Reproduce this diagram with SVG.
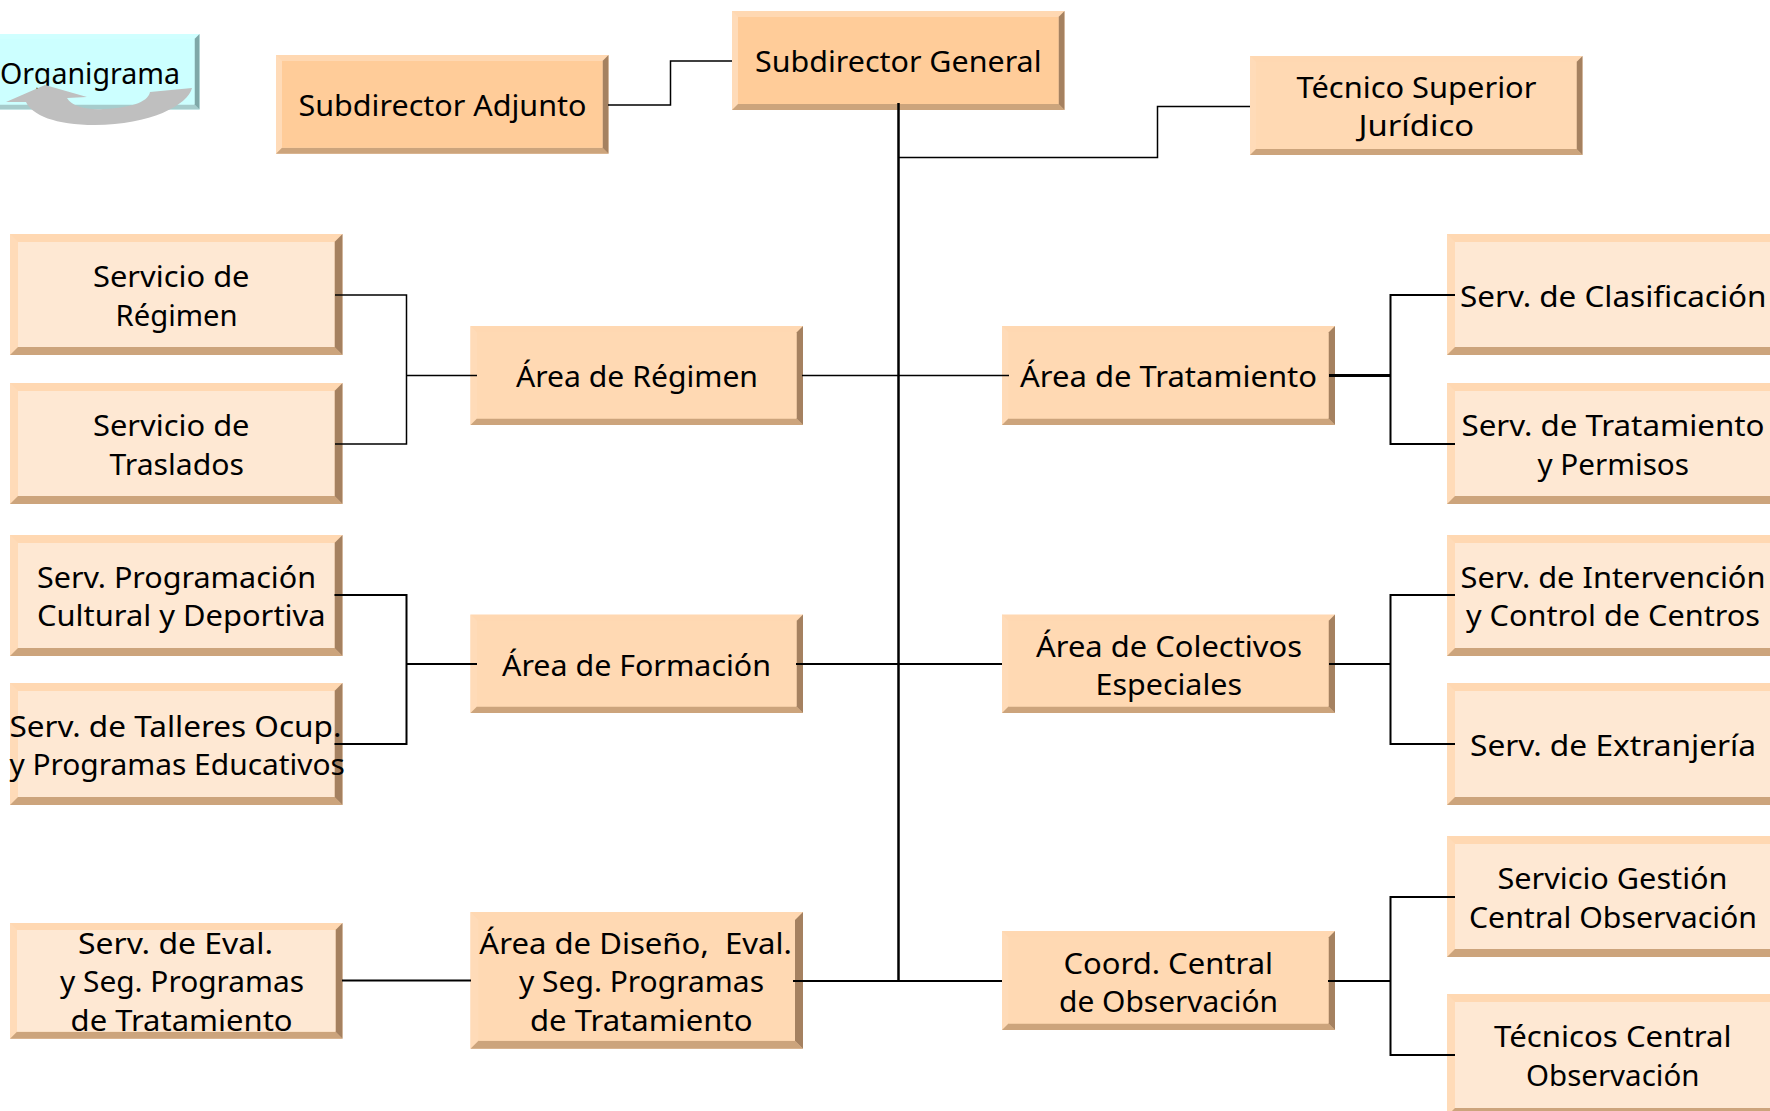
<svg xmlns="http://www.w3.org/2000/svg" width="1770" height="1111" viewBox="0 0 1770 1111">
<style>
text{font-family:"Noto Sans","DejaVu Sans",sans-serif;font-size:29px;fill:#000}
.t{fill:#FFD8B2}.l{fill:#FFDBB8}.b{fill:#CCA47C}.r{fill:#A58160}
.f1{fill:#FFCC99}.f2{fill:#FFD9B3}.f3{fill:#FEE8D3}
.ct{fill:#D0FFFF}.cl{fill:#CCFFFF}.cb{fill:#A6CCCC}.cr{fill:#7FA8A8}.cf{fill:#CCFFFF}
#connectors path{fill:none;stroke:#000;stroke-width:2}
#connectors path.thin{stroke-width:1.5}
#connectors path.trunk{stroke-width:2.5}
#connectors path.thick{stroke-width:3}
</style>
<g id="n-organigrama">
<rect class="ct" x="-10" y="34" width="209.500" height="75.500"/>
<polygon class="cb" points="-10,109.500 199.500,109.500 194.500,104.500 -10,104.500"/>
<polygon class="cr" points="199.500,34 199.500,109.500 194.500,104.500 194.500,39"/>
<rect class="cf" x="-10" y="39" width="204.500" height="65.500"/>
<text x="0" y="84" textLength="180" lengthAdjust="spacingAndGlyphs">Organigrama</text>
<path d="M6,102 L45,85 L87,97 L67,98 C72,107 88,110 103,109 C128,108 148,103 150,92 L192,88 C188,105 150,125 95,125 C55,125 32,115 26,102 Z" fill="#BFBFBF"/>
</g>
<g id="n-adjunto">
<rect class="t" x="276" y="55" width="332.500" height="98.700"/>
<polygon class="l" points="276,55 282,61 282,147.700 276,153.700"/>
<polygon class="b" points="276,153.700 608.500,153.700 602.500,147.700 282,147.700"/>
<polygon class="r" points="608.500,55 608.500,153.700 602.500,147.700 602.500,61"/>
<rect class="f1" x="282" y="61" width="320.500" height="86.700"/>
<text x="298.500" y="115.700" textLength="288" lengthAdjust="spacingAndGlyphs">Subdirector Adjunto</text>
</g>
<g id="n-general">
<rect class="t" x="732" y="11" width="332.500" height="99"/>
<polygon class="l" points="732,11 738,17 738,104 732,110"/>
<polygon class="b" points="732,110 1064.500,110 1058.500,104 738,104"/>
<polygon class="r" points="1064.500,11 1064.500,110 1058.500,104 1058.500,17"/>
<rect class="f1" x="738" y="17" width="320.500" height="87"/>
<text x="755" y="71.700" textLength="286.500" lengthAdjust="spacingAndGlyphs">Subdirector General</text>
</g>
<g id="n-tecnico">
<rect class="t" x="1250" y="56" width="332.500" height="99"/>
<polygon class="l" points="1250,56 1256,62 1256,149 1250,155"/>
<polygon class="b" points="1250,155 1582.500,155 1576.500,149 1256,149"/>
<polygon class="r" points="1582.500,56 1582.500,155 1576.500,149 1576.500,62"/>
<rect class="f2" x="1256" y="62" width="320.500" height="87"/>
<text x="1296.500" y="98.300" textLength="240" lengthAdjust="spacingAndGlyphs">Técnico Superior</text>
<text x="1358.500" y="136" textLength="115.500" lengthAdjust="spacingAndGlyphs">Jurídico</text>
</g>
<g id="n-regimen-serv">
<rect class="t" x="10" y="234" width="332.500" height="121"/>
<polygon class="l" points="10,234 18,242 18,347 10,355"/>
<polygon class="b" points="10,355 342.500,355 334.500,347 18,347"/>
<polygon class="r" points="342.500,234 342.500,355 334.500,347 334.500,242"/>
<rect class="f3" x="18" y="242" width="316.500" height="105"/>
<text x="93" y="286.700" textLength="156.500" lengthAdjust="spacingAndGlyphs">Servicio de</text>
<text x="115.600" y="325.700" textLength="122" lengthAdjust="spacingAndGlyphs">Régimen</text>
</g>
<g id="n-traslados">
<rect class="t" x="10" y="383" width="332.500" height="121"/>
<polygon class="l" points="10,383 18,391 18,496 10,504"/>
<polygon class="b" points="10,504 342.500,504 334.500,496 18,496"/>
<polygon class="r" points="342.500,383 342.500,504 334.500,496 334.500,391"/>
<rect class="f3" x="18" y="391" width="316.500" height="105"/>
<text x="93" y="435.700" textLength="156.500" lengthAdjust="spacingAndGlyphs">Servicio de</text>
<text x="109.500" y="474.700" textLength="134.500" lengthAdjust="spacingAndGlyphs">Traslados</text>
</g>
<g id="n-programacion">
<rect class="t" x="10" y="535" width="332.500" height="121"/>
<polygon class="l" points="10,535 18,543 18,648 10,656"/>
<polygon class="b" points="10,656 342.500,656 334.500,648 18,648"/>
<polygon class="r" points="342.500,535 342.500,656 334.500,648 334.500,543"/>
<rect class="f3" x="18" y="543" width="316.500" height="105"/>
<text x="37" y="587.500" textLength="279" lengthAdjust="spacingAndGlyphs">Serv. Programación</text>
<text x="37" y="625.700" textLength="288.500" lengthAdjust="spacingAndGlyphs">Cultural y Deportiva</text>
</g>
<g id="n-talleres">
<rect class="t" x="10" y="683" width="332.500" height="122"/>
<polygon class="l" points="10,683 18,691 18,797 10,805"/>
<polygon class="b" points="10,805 342.500,805 334.500,797 18,797"/>
<polygon class="r" points="342.500,683 342.500,805 334.500,797 334.500,691"/>
<rect class="f3" x="18" y="691" width="316.500" height="106"/>
<text x="9.400" y="736.700" textLength="332" lengthAdjust="spacingAndGlyphs">Serv. de Talleres Ocup.</text>
<text x="9.400" y="775" textLength="335.500" lengthAdjust="spacingAndGlyphs">y Programas Educativos</text>
</g>
<g id="n-eval">
<rect class="t" x="10" y="923" width="332.500" height="115.700"/>
<polygon class="l" points="10,923 17,930 17,1031.700 10,1038.700"/>
<polygon class="b" points="10,1038.700 342.500,1038.700 335.500,1031.700 17,1031.700"/>
<polygon class="r" points="342.500,923 342.500,1038.700 335.500,1031.700 335.500,930"/>
<rect class="f3" x="17" y="930" width="318.500" height="101.700"/>
<text x="78" y="953.800" textLength="195" lengthAdjust="spacingAndGlyphs">Serv. de Eval.</text>
<text x="60" y="991.700" textLength="244" lengthAdjust="spacingAndGlyphs">y Seg. Programas</text>
<text x="70.600" y="1030.500" textLength="222" lengthAdjust="spacingAndGlyphs">de Tratamiento</text>
</g>
<g id="n-area-regimen">
<rect class="t" x="470.500" y="326" width="332.500" height="99"/>
<polygon class="l" points="470.500,326 477,332.500 477,418.500 470.500,425"/>
<polygon class="b" points="470.500,425 803,425 796.500,418.500 477,418.500"/>
<polygon class="r" points="803,326 803,425 796.500,418.500 796.500,332.500"/>
<rect class="f2" x="477" y="332.500" width="319.500" height="86"/>
<text x="516" y="386.700" textLength="242" lengthAdjust="spacingAndGlyphs">Área de Régimen</text>
</g>
<g id="n-area-formacion">
<rect class="t" x="470.500" y="614.500" width="332.500" height="98.500"/>
<polygon class="l" points="470.500,614.500 477,621 477,706.500 470.500,713"/>
<polygon class="b" points="470.500,713 803,713 796.500,706.500 477,706.500"/>
<polygon class="r" points="803,614.500 803,713 796.500,706.500 796.500,621"/>
<rect class="f2" x="477" y="621" width="319.500" height="85.500"/>
<text x="502" y="676" textLength="269" lengthAdjust="spacingAndGlyphs">Área de Formación</text>
</g>
<g id="n-area-diseno">
<rect class="t" x="470.500" y="912" width="332.500" height="136.700"/>
<polygon class="l" points="470.500,912 478.500,920 478.500,1040.700 470.500,1048.700"/>
<polygon class="b" points="470.500,1048.700 803,1048.700 795,1040.700 478.500,1040.700"/>
<polygon class="r" points="803,912 803,1048.700 795,1040.700 795,920"/>
<rect class="f2" x="478.500" y="920" width="316.500" height="120.700"/>
<text x="479.300" y="953.800" textLength="312.500" lengthAdjust="spacingAndGlyphs" xml:space="preserve">Área de Diseño,  Eval.</text>
<text x="519" y="991.700" textLength="245" lengthAdjust="spacingAndGlyphs">y Seg. Programas</text>
<text x="530" y="1030.500" textLength="222.500" lengthAdjust="spacingAndGlyphs">de Tratamiento</text>
</g>
<g id="n-area-tratamiento">
<rect class="t" x="1002" y="326" width="333" height="99"/>
<polygon class="l" points="1002,326 1008.500,332.500 1008.500,418.500 1002,425"/>
<polygon class="b" points="1002,425 1335,425 1328.500,418.500 1008.500,418.500"/>
<polygon class="r" points="1335,326 1335,425 1328.500,418.500 1328.500,332.500"/>
<rect class="f2" x="1008.500" y="332.500" width="320" height="86"/>
<text x="1020" y="386.700" textLength="297" lengthAdjust="spacingAndGlyphs">Área de Tratamiento</text>
</g>
<g id="n-area-colectivos">
<rect class="t" x="1002" y="614.500" width="333" height="98.500"/>
<polygon class="l" points="1002,614.500 1008.500,621 1008.500,706.500 1002,713"/>
<polygon class="b" points="1002,713 1335,713 1328.500,706.500 1008.500,706.500"/>
<polygon class="r" points="1335,614.500 1335,713 1328.500,706.500 1328.500,621"/>
<rect class="f2" x="1008.500" y="621" width="320" height="85.500"/>
<text x="1036" y="657" textLength="266" lengthAdjust="spacingAndGlyphs">Área de Colectivos</text>
<text x="1095.500" y="695" textLength="146.500" lengthAdjust="spacingAndGlyphs">Especiales</text>
</g>
<g id="n-coord">
<rect class="t" x="1002" y="931" width="333" height="99"/>
<polygon class="l" points="1002,931 1008.500,937.500 1008.500,1023.500 1002,1030"/>
<polygon class="b" points="1002,1030 1335,1030 1328.500,1023.500 1008.500,1023.500"/>
<polygon class="r" points="1335,931 1335,1030 1328.500,1023.500 1328.500,937.500"/>
<rect class="f2" x="1008.500" y="937.500" width="320" height="86"/>
<text x="1063.500" y="973.500" textLength="209.500" lengthAdjust="spacingAndGlyphs">Coord. Central</text>
<text x="1059" y="1012.200" textLength="219" lengthAdjust="spacingAndGlyphs">de Observación</text>
</g>
<g id="n-clasificacion">
<rect class="t" x="1447" y="234" width="333" height="121"/>
<polygon class="l" points="1447,234 1455,242 1455,347 1447,355"/>
<polygon class="b" points="1447,355 1780,355 1780,347 1455,347"/>
<rect class="f3" x="1455" y="242" width="325" height="105"/>
<text x="1460" y="306.700" textLength="306.500" lengthAdjust="spacingAndGlyphs">Serv. de Clasificación</text>
</g>
<g id="n-permisos">
<rect class="t" x="1447" y="383" width="333" height="121"/>
<polygon class="l" points="1447,383 1455,391 1455,496 1447,504"/>
<polygon class="b" points="1447,504 1780,504 1780,496 1455,496"/>
<rect class="f3" x="1455" y="391" width="325" height="105"/>
<text x="1461.500" y="436" textLength="303" lengthAdjust="spacingAndGlyphs">Serv. de Tratamiento</text>
<text x="1537.500" y="474.500" textLength="151.500" lengthAdjust="spacingAndGlyphs">y Permisos</text>
</g>
<g id="n-intervencion">
<rect class="t" x="1447" y="535" width="333" height="121"/>
<polygon class="l" points="1447,535 1455,543 1455,648 1447,656"/>
<polygon class="b" points="1447,656 1780,656 1780,648 1455,648"/>
<rect class="f3" x="1455" y="543" width="325" height="105"/>
<text x="1460.500" y="587.500" textLength="305" lengthAdjust="spacingAndGlyphs">Serv. de Intervención</text>
<text x="1466" y="625.700" textLength="294" lengthAdjust="spacingAndGlyphs">y Control de Centros</text>
</g>
<g id="n-extranjeria">
<rect class="t" x="1447" y="683" width="333" height="122"/>
<polygon class="l" points="1447,683 1455,691 1455,797 1447,805"/>
<polygon class="b" points="1447,805 1780,805 1780,797 1455,797"/>
<rect class="f3" x="1455" y="691" width="325" height="106"/>
<text x="1470" y="756" textLength="286" lengthAdjust="spacingAndGlyphs">Serv. de Extranjería</text>
</g>
<g id="n-gestion">
<rect class="t" x="1447" y="836" width="333" height="121"/>
<polygon class="l" points="1447,836 1455,844 1455,949 1447,957"/>
<polygon class="b" points="1447,957 1780,957 1780,949 1455,949"/>
<rect class="f3" x="1455" y="844" width="325" height="105"/>
<text x="1497.500" y="889.300" textLength="230" lengthAdjust="spacingAndGlyphs">Servicio Gestión</text>
<text x="1469" y="927.800" textLength="288" lengthAdjust="spacingAndGlyphs">Central Observación</text>
</g>
<g id="n-tecnicos">
<rect class="t" x="1447" y="994" width="333" height="122"/>
<polygon class="l" points="1447,994 1455,1002 1455,1108 1447,1116"/>
<polygon class="b" points="1447,1116 1780,1116 1780,1108 1455,1108"/>
<rect class="f3" x="1455" y="1002" width="325" height="106"/>
<text x="1494" y="1046.700" textLength="237.500" lengthAdjust="spacingAndGlyphs">Técnicos Central</text>
<text x="1526" y="1085.500" textLength="173.500" lengthAdjust="spacingAndGlyphs">Observación</text>
</g>
<g id="connectors">
<path class="thin" d="M608,105H670.500V61H732"/>
<path class="trunk" d="M898.500,103V981"/>
<path class="thin" d="M898.500,157.500H1157.500V106.500H1250"/>
<path class="thin" d="M802,375.500H1009"/>
<path class="thick" d="M1329,375.500H1390.500"/>
<path d="M1455,295H1390.500V444H1455"/>
<path class="thin" d="M335,295H406.500V444H335"/>
<path class="thin" d="M406.500,375.500H477"/>
<path d="M334.500,595H406.500V744H334.500"/>
<path d="M406.500,664H477"/>
<path d="M796,664H1002"/>
<path d="M1329,664H1390.500"/>
<path d="M1455,595H1390.500V744H1455"/>
<path d="M342,980.500H471"/>
<path d="M793,981H1002"/>
<path d="M1328,981H1390.500"/>
<path d="M1455,897H1390.500V1055H1455"/>
</g>
</svg>
